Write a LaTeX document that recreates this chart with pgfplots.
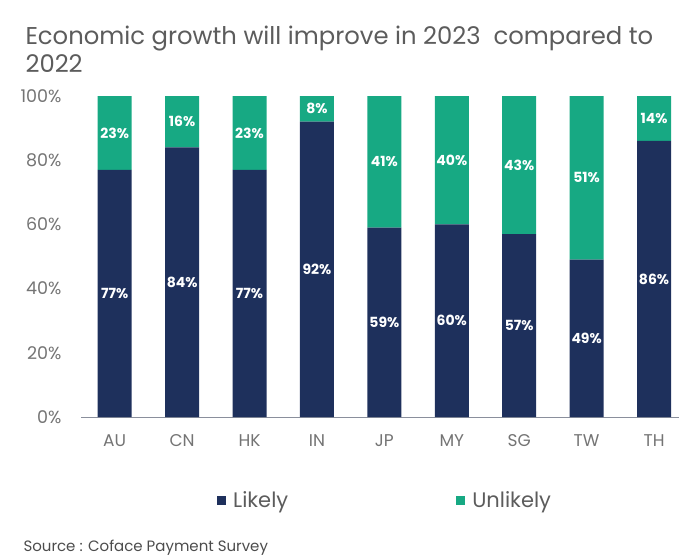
\documentclass[border=0pt]{standalone}
\usepackage{fontspec}
\setmainfont{Poppins}
\usepackage{pgfplots}
\usepackage{pgfplotstable}
\pgfplotsset{compat=1.18}

\definecolor{likely}{HTML}{1E305C}
\definecolor{unlikely}{HTML}{17A983}
\definecolor{txtgrey}{HTML}{5C5C5C}
\definecolor{tickgrey}{HTML}{747474}
\definecolor{axgrey}{HTML}{8A8F9C}

\pgfplotstableread{
id cc likely unlikely
0 AU 77 23
1 CN 84 16
2 HK 77 23
3 IN 92 8
4 JP 59 41
5 MY 60 40
6 SG 57 43
7 TW 49 51
8 TH 86 14
}\survey

\begin{document}
\begin{tikzpicture}
\useasboundingbox (-81pt,-141pt) rectangle (598pt,417pt);
\begin{axis}[
  scale only axis,
  width=598pt, height=321pt,
  xmin=-0.5, xmax=8.37,
  ymin=0, ymax=100,
  ybar stacked,
  bar width=34pt,
  axis x line=bottom, axis y line=left,
  x axis line style={axgrey, line width=1pt, -},
  y axis line style={draw=none},
  tick style={draw=none},
  major tick length=0pt,
  xtick={0,...,8},
  xticklabels={AU,CN,HK,IN,JP,MY,SG,TW,TH},
  ytick={0,20,40,60,80,100},
  yticklabels={0\%,20\%,40\%,60\%,80\%,100\%},
  xticklabel style={tickgrey, font=\fontsize{17}{17}\selectfont, yshift=-14pt},
  yticklabel style={tickgrey, font=\fontsize{17.5}{17.5}\selectfont, xshift=-16pt},
  point meta=explicit symbolic,
  nodes near coords={\pgfplotspointmeta\%},
  every node near coord/.append style={white, font=\bfseries\fontsize{14}{14}\selectfont,
    anchor=center},
  legend style={draw=none, fill=none, at={(0.2224,-0.2586)}, anchor=west,
    legend columns=2, font=\fontsize{21}{21}\selectfont, text=txtgrey,
    /tikz/every odd column/.append style={column sep=5pt},
    /tikz/every even column/.append style={column sep=166pt}},
  legend image code/.code={\fill[#1] (0pt,-4.5pt) rectangle (9pt,4.5pt);},
]
\addplot[fill=likely, draw=none] table[x=id, y=likely, meta=likely] {\survey};
\addplot[fill=unlikely, draw=none] table[x=id, y=unlikely, meta=unlikely] {\survey};
\legend{Likely, Unlikely}
\end{axis}
\node[anchor=base west, txtgrey, font=\fontsize{24.3}{24.3}\selectfont] at (-59pt,373pt) {Economic growth will improve in 2023~ compared to};
\node[anchor=base west, txtgrey, font=\fontsize{24.3}{24.3}\selectfont] at (-59pt,345pt) {2022};
\node[anchor=base west, text=black!70, font=\fontsize{15}{15}\selectfont] at (-61pt,-134pt) {Source : Coface Payment Survey};
\end{tikzpicture}
\end{document}
